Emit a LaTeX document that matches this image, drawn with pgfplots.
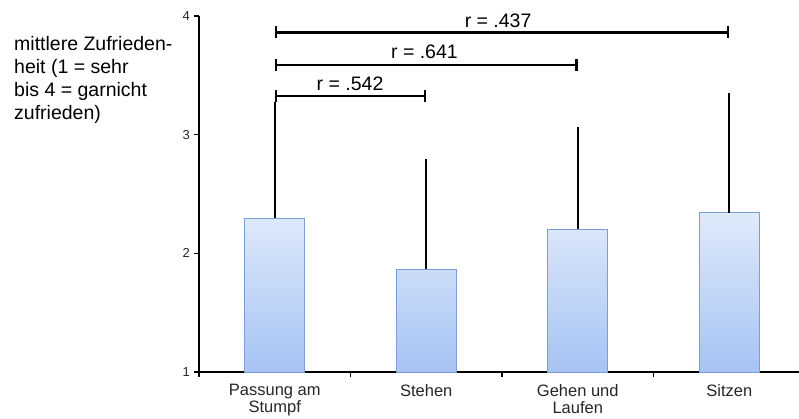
\documentclass[border=0pt]{standalone}
\usepackage{fontspec}
\setmainfont{Liberation Sans}
\usepackage{pgfplots}
\pgfplotsset{compat=1.18}
\usepackage{pgfplotstable}
\usetikzlibrary{arrows.meta}
\definecolor{bartop}{HTML}{DFEAFB}
\definecolor{barbot}{HTML}{A6C3F4}
\definecolor{barline}{HTML}{7B9DD2}
\pgfplotstableread{
x m e
0 2.298 0.952
1 1.868 0.902
2 2.205 0.834
3 2.342 0.984
}\bars
\begin{document}
\begin{tikzpicture}[x=1pt,y=1pt]
\useasboundingbox (-199,-46) rectangle (600,372);
\begin{axis}[
 scale only axis, width=600pt, height=356pt,
 xmin=-0.5, xmax=3.46, ymin=0, ymax=3,
 clip=false,
 axis x line=bottom, axis y line=left,
 axis line style={-, line width=2pt, black},
 every outer x axis line/.append style={-},
 every outer y axis line/.append style={-},
 tick align=outside,
 major tick length=5pt,
 tick style={line width=1.6pt, black},
 ytick={0,1,2,3}, yticklabels={},
 xtick={-0.5,0.5,1.5,2.5}, xticklabels={},
 extra x ticks={0,1,2,3},
 extra x tick labels={{Passung am\\Stumpf},{Stehen},{Gehen und\\Laufen},{Sitzen}},
 extra x tick style={major tick length=0pt, tick style={draw=none},
   xticklabel style={align=center, font=\fontsize{16.5}{17}\selectfont, inner sep=0pt, yshift=-12pt, text=black!85}},
 /pgf/number format/assume math mode=true,
]
\addplot[ybar, bar width=60pt, draw=barline, line width=0.8pt, top color=bartop, bottom color=barbot,
  error bars/.cd, y dir=plus, y explicit,
  error bar style={line width=2.2pt, black},
  error mark options={line width=2pt, black, mark size=2.6pt}]
  table[x=x, y expr=\thisrow{m}-1, y error=e] {\bars};
\addplot[line width=2.6pt, black, {Bar[width=12pt]}-{Bar[width=12pt]}] coordinates {(0,2.863) (3,2.863)};
\addplot[line width=2.6pt, black, {Bar[width=12pt]}-{Bar[width=12pt]}] coordinates {(0,2.587) (2,2.587)};
\addplot[line width=2.6pt, black, {Bar[width=12pt]}-{Bar[width=12pt]}] coordinates {(0,2.326) (1,2.326)};
\node[anchor=base, font=\fontsize{19.5}{21}\selectfont, inner sep=0pt] at (axis cs:1.474,2.899) {r = .437};
\node[anchor=base, font=\fontsize{19.5}{21}\selectfont, inner sep=0pt] at (axis cs:0.988,2.638) {r = .641};
\node[anchor=base, font=\fontsize{19.5}{21}\selectfont, inner sep=0pt] at (axis cs:0.497,2.376) {r = .542};
\node[anchor=east, inner sep=0pt, xshift=-9pt, text=black!85, font=\fontsize{13}{15}\selectfont] at (axis cs:-0.5,0) {1};
\node[anchor=east, inner sep=0pt, xshift=-9pt, text=black!85, font=\fontsize{13}{15}\selectfont] at (axis cs:-0.5,1) {2};
\node[anchor=east, inner sep=0pt, xshift=-9pt, text=black!85, font=\fontsize{13}{15}\selectfont] at (axis cs:-0.5,2) {3};
\node[anchor=east, inner sep=0pt, xshift=-9pt, text=black!85, font=\fontsize{13}{15}\selectfont] at (axis cs:-0.5,3) {4};
\end{axis}
\node[anchor=north west, align=left, inner sep=0pt, font=\fontsize{19.5}{23}\selectfont] at (-185,336)
  {mittlere Zufrieden-\\heit (1 = sehr\\bis 4 = garnicht\\zufrieden)};
\end{tikzpicture}
\end{document}
